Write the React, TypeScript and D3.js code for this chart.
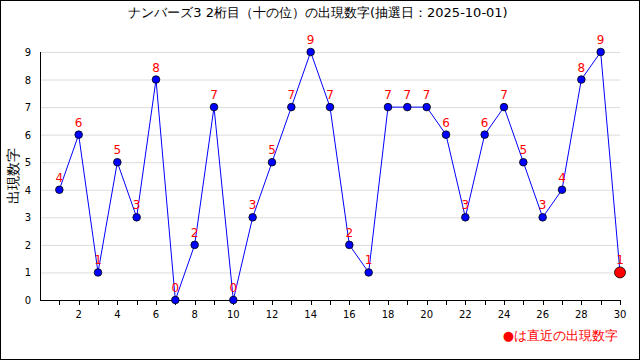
import React from "react";
import * as d3 from "d3";

const draws = [1, 2, 3, 4, 5, 6, 7, 8, 9, 10, 11, 12, 13, 14, 15, 16, 17, 18, 19, 20, 21, 22, 23, 24, 25, 26, 27, 28, 29, 30];
const digits = [4, 6, 1, 5, 3, 8, 0, 2, 7, 0, 3, 5, 7, 9, 7, 2, 1, 7, 7, 7, 6, 3, 6, 7, 5, 3, 4, 8, 9, 1];
const yTicks = [0, 1, 2, 3, 4, 5, 6, 7, 8, 9];
const xLabelTicks = [2, 4, 6, 8, 10, 12, 14, 16, 18, 20, 22, 24, 26, 28, 30];
const title = "ナンバーズ3 2桁目（十の位）の出現数字(抽選日：2025-10-01)";
const yTitle = "出現数字";
const legendText = "●は直近の出現数字";

export default function App() {
  const W = 640, H = 360;
  const x = d3.scaleLinear().domain([0, 30]).range([40, 620]);
  const y = d3.scaleLinear().domain([0, 9]).range([300, 52]);
  const pts = draws.map((d, i) => ({ d, v: digits[i] }));
  const line = d3.line<{ d: number; v: number }>().x(p => x(p.d)).y(p => y(p.v));
  const font = "'DejaVu Sans', sans-serif";
  return (
    <div style={{ position: "absolute", left: 0, top: 0 }}>
      <svg width={W} height={H} style={{ display: "block", background: "#fff" }} fontFamily={font}>
        <rect x={0.5} y={0.5} width={W - 1} height={H - 1} fill="#fff" stroke="#000" />
        <text x={318} y={17} textAnchor="middle" fontSize={13} fill="#000">{title}</text>
        {yTicks.map(t => (
          <g key={t}>
            {t > 0 && <line x1={40} x2={620} y1={y(t) + 0.5} y2={y(t) + 0.5} stroke="#dcdcdc" />}
            <text x={31} y={y(t) + 4} textAnchor="end" fontSize={10} fill="#000">{t}</text>
          </g>
        ))}
        <line x1={40.5} x2={40.5} y1={52} y2={300} stroke="#000" />
        <line x1={40} x2={620} y1={300.5} y2={300.5} stroke="#000" />
        {draws.map(d => (
          <line key={d} x1={Math.round(x(d)) + 0.5} x2={Math.round(x(d)) + 0.5} y1={300} y2={305} stroke="#000" />
        ))}
        {xLabelTicks.map(t => (
          <text key={t} x={x(t)} y={318} textAnchor="middle" fontSize={10} fill="#000">{t}</text>
        ))}
        <text transform={`translate(18,176) rotate(-90)`} textAnchor="middle" fontSize={14} fill="#000">{yTitle}</text>
        <path d={line(pts) || ""} fill="none" stroke="#0000ff" strokeWidth={1} />
        {pts.map((p, i) => (
          <circle key={i} cx={x(p.d)} cy={y(p.v)} r={i === pts.length - 1 ? 5.5 : 3.8}
            fill={i === pts.length - 1 ? "#ff0000" : "#0000ff"} stroke="#000" strokeWidth={0.8} />
        ))}
        {pts.map((p, i) => (
          <text key={"l" + i} x={x(p.d)} y={y(p.v) - 8} textAnchor="middle" fontSize={12} fill="#ff0000">{p.v}</text>
        ))}
        <text x={618} y={340} textAnchor="end" fontSize={13} fill="#ff0000">{legendText}</text>
      </svg>
    </div>
  );
}
